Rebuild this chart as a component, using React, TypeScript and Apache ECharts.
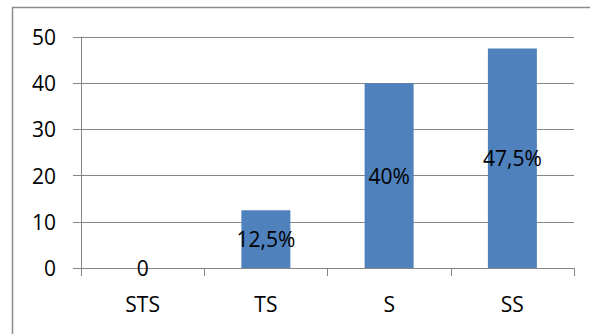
import React, { useEffect, useRef } from "react";
import * as echarts from "echarts";

const categories = ["STS", "TS", "S", "SS"];
const values = [0, 12.5, 40, 47.5];
const valueLabels = ["0", "12,5%", "40%", "47,5%"];
const yTicks = { min: 0, max: 50, interval: 10 };

export default function App() {
  const ref = useRef<HTMLDivElement>(null);
  useEffect(() => {
    if (!ref.current) return;
    const chart = echarts.init(ref.current, null, { renderer: "svg" });
    const font = "Open Sans";
    const axisColor = "#868686";
    chart.setOption({
      animation: false,
      backgroundColor: "#ffffff",
      textStyle: { fontFamily: font },
      grid: { left: 81, right: 16, top: 37, bottom: 66, containLabel: false },
      graphic: [
        { type: "line", shape: { x1: 12, y1: 7.5, x2: 600, y2: 7.5 }, style: { stroke: "#8c8c8c", lineWidth: 1.5 } },
        { type: "line", shape: { x1: 12.5, y1: 7, x2: 12.5, y2: 340 }, style: { stroke: "#8c8c8c", lineWidth: 1.5 } },
      ],
      xAxis: {
        type: "category",
        data: categories,
        axisLine: { show: true, lineStyle: { color: axisColor, width: 1 } },
        axisTick: { show: true, length: 8, lineStyle: { color: axisColor } },
        axisLabel: { color: "#000", fontSize: 21, fontFamily: font, margin: 25 },
      },
      yAxis: {
        type: "value",
        min: yTicks.min,
        max: yTicks.max,
        interval: yTicks.interval,
        axisLine: { show: true, lineStyle: { color: axisColor, width: 1 } },
        axisTick: { show: true, length: 8, lineStyle: { color: axisColor } },
        axisLabel: { color: "#000", fontSize: 21, fontFamily: font, margin: 25 },
        splitLine: { show: true, lineStyle: { color: axisColor, width: 1 } },
      },
      series: [
        {
          type: "bar",
          data: values,
          barWidth: 49,
          itemStyle: { color: "#4F81BD", borderWidth: 0 },
          label: {
            show: true,
            position: "inside",
            color: "#000",
            fontSize: 21,
            fontFamily: font,
            formatter: (p: any) => valueLabels[p.dataIndex],
          },
        },
      ],
    });
    return () => chart.dispose();
  }, []);
  return (
    <div
      ref={ref}
      style={{ position: "fixed", left: 0, top: 0, width: 590, height: 334 }}
    />
  );
}
